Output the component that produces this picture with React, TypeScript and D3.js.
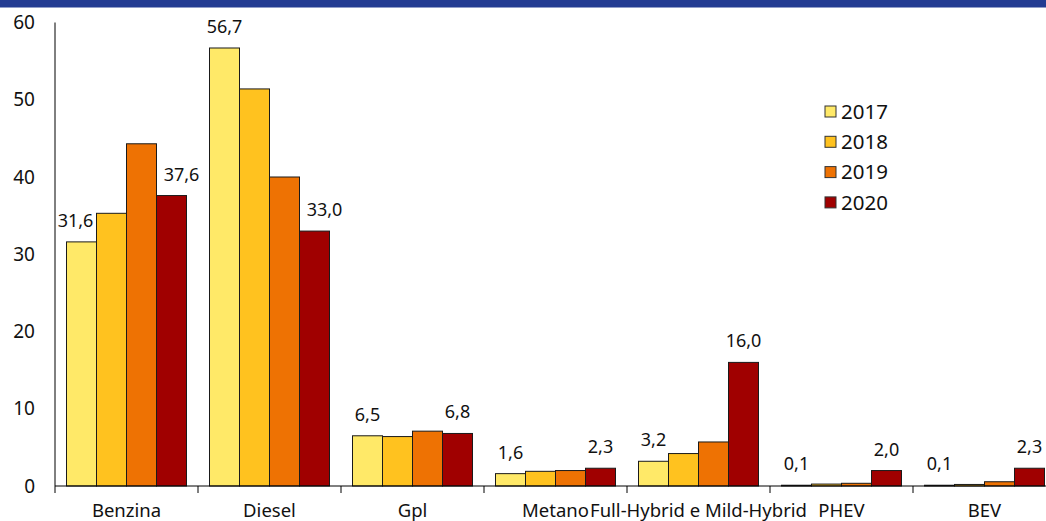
import React from "react";
import * as d3 from "d3";

const categories = ["Benzina", "Diesel", "Gpl", "Metano", "Full-Hybrid e Mild-Hybrid", "PHEV", "BEV"];
const years = ["2017", "2018", "2019", "2020"];
const values2017 = [31.6, 56.7, 6.5, 1.6, 3.2, 0.1, 0.1];
const values2018 = [35.3, 51.4, 6.4, 1.9, 4.2, 0.25, 0.2];
const values2019 = [44.3, 40.0, 7.1, 2.0, 5.7, 0.35, 0.55];
const values2020 = [37.6, 33.0, 6.8, 2.3, 16.0, 2.0, 2.3];
const yTicks = [0, 10, 20, 30, 40, 50, 60];
const colors = ["#FFE968", "#FFC21F", "#EE7203", "#A00000"];

const series = [values2017, values2018, values2019, values2020];
const FONT = "'Noto Sans', sans-serif";

export default function App() {
  const W = 1046;
  const H = 521;
  const x0 = 55;
  const step = 143;
  const x = d3
    .scaleBand<string>()
    .domain(categories)
    .range([x0, x0 + step * categories.length])
    .paddingInner(0)
    .paddingOuter(0);
  const xi = d3.scaleBand<string>().domain(years).range([11.5, 131.5]);
  const y = d3.scaleLinear().domain([0, 60]).range([486, 22.5]);
  const fmt = (v: number) => v.toFixed(1).replace(".", ",");

  const labels: { x: number; y: number; t: string }[] = [];
  categories.forEach((c, ci) => {
    [0, 3].forEach((si) => {
      const v = series[si][ci];
      const nb = si === 0 ? series[1][ci] : series[2][ci];
      let cx = (x(c) as number) + (xi(years[si]) as number) + xi.bandwidth() / 2;
      if (y(nb) < y(v) - 10) cx += si === 0 ? -6 : 10;
      labels.push({ x: cx, y: y(v) - 15, t: fmt(v) });
    });
  });

  return (
    <svg
      width={W}
      height={H}
      style={{ position: "absolute", left: 0, top: 0, background: "#fff" }}
      fontFamily={FONT}
    >
      <rect x={0} y={0} width={W} height={7.5} fill="#233C92" />
      {categories.map((c, ci) =>
        series.map((s, si) => {
          const bx = (x(c) as number) + (xi(years[si]) as number);
          return (
            <rect
              key={c + si}
              x={bx}
              y={y(s[ci])}
              width={xi.bandwidth()}
              height={y(0) - y(s[ci])}
              fill={colors[si]}
              stroke="#1a1a1a"
              strokeWidth={1}
            />
          );
        })
      )}
      <line x1={x0} x2={x0} y1={y(60)} y2={y(0)} stroke="#000" strokeWidth={1} />
      {yTicks.map((t) => (
        <text key={t} x={35} y={y(t)} dy="0.35em" textAnchor="end" fontSize={19} fill="#111">
          {t}
        </text>
      ))}
      <line x1={x0} x2={x0 + step * categories.length} y1={y(0)} y2={y(0)} stroke="#000" strokeWidth={1} />
      {d3.range(categories.length + 1).map((i) => (
        <line key={i} x1={x0 + step * i} x2={x0 + step * i} y1={y(0)} y2={y(0) + 7} stroke="#000" />
      ))}
      {categories.map((c) => (
        <text
          key={c}
          x={(x(c) as number) + x.bandwidth() / 2}
          y={517}
          textAnchor="middle"
          fontSize={18.5}
          fill="#111"
        >
          {c}
        </text>
      ))}
      {labels.map((l, i) => (
        <text key={i} x={l.x} y={l.y} textAnchor="middle" fontSize={18} fill="#111">
          {l.t}
        </text>
      ))}
      {years.map((yr, i) => (
        <g key={yr} transform={`translate(825,${111.5 + i * 30.3})`}>
          <rect x={0} y={-5.5} width={11} height={11} fill={colors[i]} stroke="#333" strokeWidth={1} />
          <text x={16} y={0} dy="0.35em" fontSize={20.5} fill="#111">
            {yr}
          </text>
        </g>
      ))}
    </svg>
  );
}
